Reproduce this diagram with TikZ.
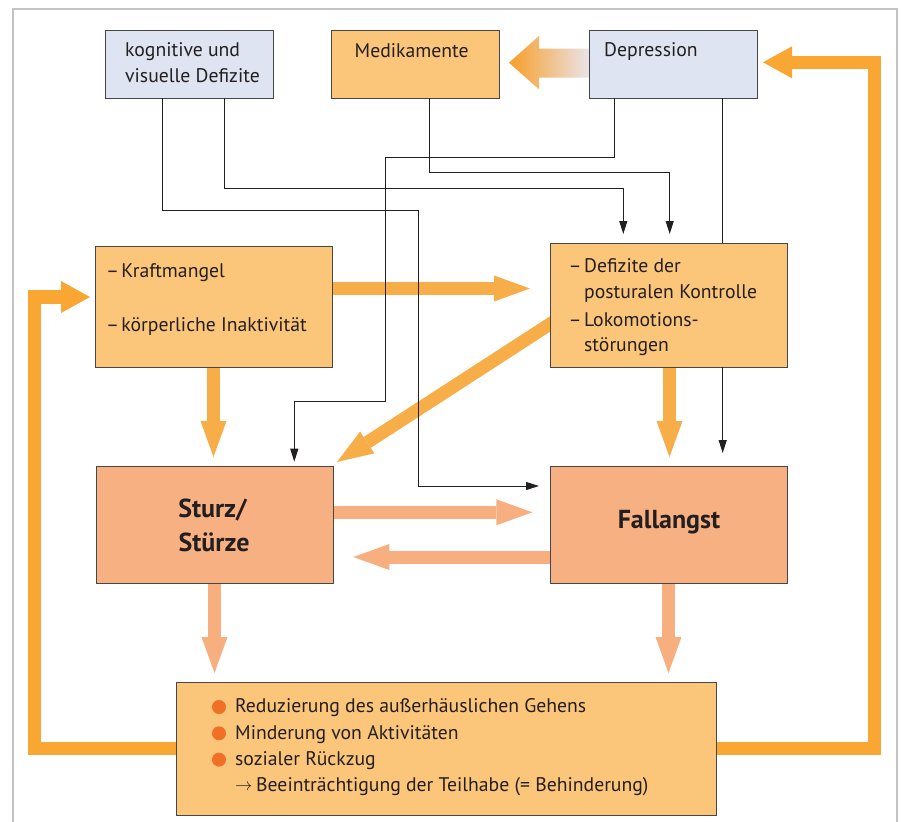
\documentclass[tikz,border=0pt]{standalone}
\usepackage{fontspec}
\setmainfont{PT Sans}
\usetikzlibrary{arrows.meta,calc}
\definecolor{frameg}{RGB}{195,195,195}
\definecolor{boxblue}{RGB}{223,228,242}
\definecolor{boxor}{RGB}{252,198,122}
\definecolor{boxsal}{RGB}{247,176,130}
\definecolor{arror}{RGB}{248,174,72}
\definecolor{looporange}{RGB}{249,166,51}
\definecolor{arrsal}{RGB}{247,175,128}
\definecolor{bulletc}{RGB}{240,112,40}
\definecolor{lineg}{RGB}{35,31,32}
\definecolor{borderg}{RGB}{70,70,70}
\definecolor{gradstart}{RGB}{247,158,40}
\definecolor{gradend}{RGB}{234,228,232}
\pgfdeclarelayer{bg}
\pgfsetlayers{bg,main}
\begin{document}
\begin{tikzpicture}[x=1pt,y=-1pt,
  box/.style={draw=borderg, line width=1pt, inner sep=0pt, outer sep=0pt},
  bluebox/.style={box, fill=boxblue, minimum width=168pt, minimum height=68pt},
  orbox/.style={box, fill=boxor},
  salbox/.style={box, fill=boxsal},
  txt/.style={anchor=base west, inner sep=0pt, text=lineg, font=\fontsize{19.7}{26}\selectfont},
  bigtxt/.style={anchor=base, inner sep=0pt, text=lineg, font=\bfseries\fontsize{26}{33}\selectfont},
  thinarr/.style={draw=lineg, line width=1pt, line join=miter, -{Triangle[length=13pt,width=8pt]}},
  thinln/.style={draw=lineg, line width=1pt},
  fatarr/.style={draw=arror, line width=13pt, -{Triangle[length=36pt,width=26pt,line width=0pt]}},
  salarr/.style={draw=arrsal, line width=13pt, -{Triangle[length=36pt,width=26pt,line width=0pt]}},
  looparr/.style={draw=looporange, line width=13.3pt, line join=miter, -{Triangle[length=29pt,width=32pt,line width=0pt]}}
]
\useasboundingbox (0,0) rectangle (903,822);
\draw[frameg, line width=1.2pt] (13,822) -- (13,9) -- (897,9) -- (897,822);

% boxes
\node[bluebox] (kog) at (189,64) {};
\node[orbox, minimum width=168pt, minimum height=68pt] (med) at (415,64) {};
\node[bluebox] (dep) at (673,64) {};
\node[orbox, minimum width=237pt, minimum height=121pt] (kraft) at (213.5,306.5) {};
\node[orbox, minimum width=237pt, minimum height=124pt] (defz) at (668.5,305) {};
\node[salbox, minimum width=237pt, minimum height=117pt] (sturz) at (214.5,524.5) {};
\node[salbox, minimum width=237pt, minimum height=117pt] (fall) at (668.5,524.5) {};
\node[orbox, minimum width=540pt, minimum height=133pt] (bot) at (446,748.5) {};

% texts
\node[txt] (kog1) at (125,56) {kognitive und};
\node[txt] (kog2) at (125,82) {visuelle Defizite};
\node[txt] (medt) at (354.5,57) {Medikamente};
\node[txt] (dept) at (604,56.5) {Depression};
\node[txt] (kr1) at (106,277.3) {\makebox[15.2pt][l]{–}Kraftmangel};
\node[txt] (kr2) at (106,331.7) {\makebox[15.2pt][l]{–}körperliche Inaktivität};
\node[txt] (df1) at (568.3,272.3) {\makebox[15.7pt][l]{–}Defizite der};
\node[txt] (df2) at (584,298.5) {posturalen Kontrolle};
\node[txt] (df3) at (568.3,326) {\makebox[15.7pt][l]{–}Lokomotions-};
\node[txt] (df4) at (584,351.7) {störungen};
\node[bigtxt] (st1) at (212.5,517.7) {Sturz/};
\node[bigtxt] (st2) at (214,551) {Stürze};
\node[bigtxt] (fa1) at (669,528.3) {Fallangst};
\node[txt] (b1) at (235,712.7) {Reduzierung des außerhäuslichen Gehens};
\node[txt] (b2) at (235,739) {Minderung von Aktivitäten};
\node[txt] (b3) at (235,765.5) {sozialer Rückzug};
\node[txt] (b4) at (235,791.7) {\makebox[21pt][l]{\raisebox{1.5pt}{\fontsize{18}{18}\selectfont$\rightarrow$}}Beeinträchtigung der Teilhabe (= Behinderung)};
\foreach \yy in {25,51.3,77.6}
  \fill[bulletc] ($(bot.north west)+(43,\yy)$) circle (7);

% thick arrows (behind boxes)
\begin{pgfonlayer}{bg}
\shade[left color=gradstart, right color=gradend]
  ($(dep.west)+(0,-15.5)$) -- ($(med.east)+(40,-15.5)$) -- ($(med.east)+(40,-28)$)
  -- ($(med.east)+(10,-1.3)$) -- ($(med.east)+(40,25.4)$) -- ($(med.east)+(40,13.5)$)
  -- ($(dep.west)+(0,13.5)$) -- cycle;
\draw[fatarr] ($(kraft.east)+(0,-18)$) -- ($(defz.west |- kraft.east)+(-20,-18)$);
\draw[fatarr] (kraft.south) -- ($(kraft.south |- sturz.north)+(0,-9)$);
\draw[fatarr] ($(defz.south)+(1,0)$) -- ($(defz.south |- fall.north)+(1,-9)$);
\draw[fatarr] ($(defz.west)+(15,9.3)$) -- ($(sturz.north east)+(4,-4)$);
\draw[salarr] ($(sturz.east)+(0,-12.2)$) -- ($(fall.west |- sturz.east)+(-17.7,-12.2)$);
\draw[salarr] ($(fall.west)+(0,32.5)$) -- ($(sturz.east |- fall.west)+(20.3,32.5)$);
\draw[salarr] (sturz.south) -- ($(sturz.south |- bot.north)+(0,-9)$);
\draw[salarr] (fall.south) -- ($(fall.south |- bot.north)+(0,-9)$);
\coordinate (rc) at (874.3,62.3);
\draw[looparr] (bot.east) -| (rc) -- ($(dep.east |- rc)+(6,0)$);
\coordinate (lc) at (34.8,297);
\draw[looparr] (bot.west) -| (lc) -- ($(kraft.west |- lc)+(-5,0)$);
\end{pgfonlayer}

% thin connectors
\coordinate (k1) at (162.3,210.7);
\coordinate (k1b) at (418.3,486);
\draw[thinarr] (kog.south -| k1) -- (k1) -| (k1b) -- ($(fall.west |- k1b)+(-11,0)$);
\coordinate (k2) at (224,188.3);
\coordinate (k2b) at (623.3,188.3);
\draw[thinarr] (kog.south -| k2) -- (k2) -- (k2b) -- ($(defz.north -| k2b)+(0,-9)$);
\coordinate (m1) at (429,172.3);
\coordinate (m1b) at (669.7,172.3);
\draw[thinarr] (med.south -| m1) -- (m1) -- (m1b) -- ($(defz.north -| m1b)+(0,-9)$);
\coordinate (d1) at (614.7,157);
\coordinate (d2) at (385.3,157);
\coordinate (d3) at (385.3,401);
\coordinate (d4) at (294.3,401);
\draw[thinarr] (dep.south -| d1) -- (d1) -- (d2) -- (d3) -- (d4) -- ($(sturz.north -| d4)+(0,-4.3)$);
\coordinate (d5) at (722.7,200);
\draw[thinln] (dep.south -| d5) -- (defz.north -| d5);
\draw[thinarr] (defz.south -| d5) -- ($(fall.north -| d5)+(0,-13)$);
\end{tikzpicture}
\end{document}
